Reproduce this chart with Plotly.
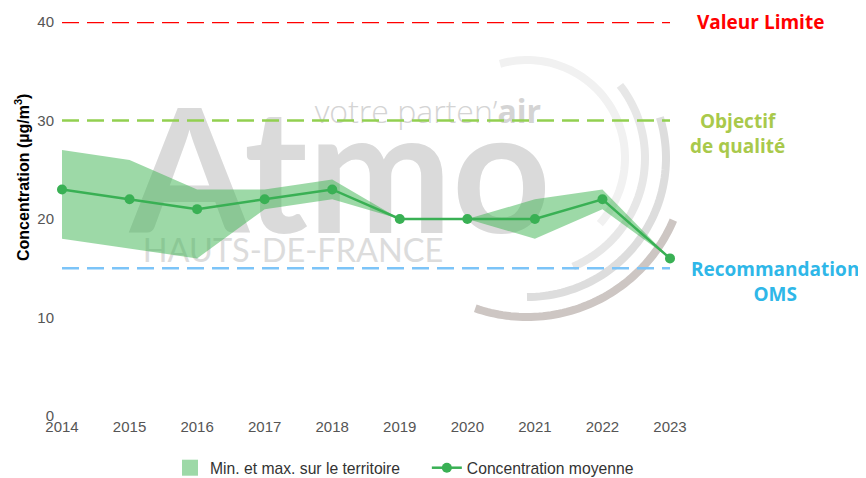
import numpy as np
import plotly.graph_objects as go

# ---- data ----
years = [2014, 2015, 2016, 2017, 2018, 2019, 2020, 2021, 2022, 2023]
mean_conc = [23, 22, 21, 22, 23, 20, 20, 20, 22, 16]
max_conc = [27, 26, 23, 23, 24, 20, 20, 22, 23, 16]
min_conc = [18, 17, 16, 21, 22, 20, 20, 18, 21, 16]

thresholds = [40, 30, 15]
threshold_names = ["Valeur Limite", "Objectif<br>de qualité", "Recommandation<br>OMS"]
threshold_colors = ["#ff0000", "#92d050", "#7cc4f8"]
label_colors = ["#ff0000", "#a9c94b", "#2fb7e8"]

y_ticks = [0, 10, 20, 30, 40]

# page is offset by the 8px body margin
OFF = 8
W, H = 866 - OFF, 478 - OFF
L, T = 62 - OFF, 22 - OFF
PW, PH = 608, 394
R = W - L - PW
B = H - T - PH


def page_to_paper(px, py):
    return (px - OFF - L) / PW, (H - B - (py - OFF)) / PH


fig = go.Figure()

# ---- watermark logo (background) ----
fig.add_trace(go.Scatter(
    x=[2018.12], y=[22.9], mode="text", text=["Atmo"],
    textfont=dict(family="Lato", size=172, color="#dadada", weight="bold"),
    showlegend=False, hoverinfo="skip", cliponaxis=False))
fig.add_trace(go.Scatter(
    x=[2017.74], y=[30.6], mode="text", text=["votre parten’<b>air</b>"],
    textposition="middle right",
    textfont=dict(family="Open Sans", size=32, color="#d4d4d4", weight=300),
    showlegend=False, hoverinfo="skip", cliponaxis=False))
fig.add_trace(go.Scatter(
    x=[2017.42], y=[16.45], mode="text", text=["HAUTS-DE-FRANCE"],
    textfont=dict(family="Lato", size=32.5, color="#dcdcdc"),
    showlegend=False, hoverinfo="skip", cliponaxis=False))

# arcs of the logo (page pixel geometry)
cx, cy = 527, 158
arcs = [
    (98, -106, 42, "#f1f1f1"),
    (118, -38, 67, "#e7e7e7"),
    (139, -17, 90, "#dddddd"),
    (159, 23, 109, "#cdc6c3"),
]
for r, a0, a1, col in arcs:
    ang = np.radians(np.linspace(a0, a1, 60))
    pts = [page_to_paper(cx + r * np.cos(a), cy + r * np.sin(a)) for a in ang]
    path = "M " + " L ".join(f"{p[0]:.4f},{p[1]:.4f}" for p in pts)
    fig.add_shape(type="path", path=path, xref="paper", yref="paper",
                  line=dict(color=col, width=8), layer="below")

# ---- band ----
fig.add_trace(go.Scatter(
    x=years, y=min_conc, mode="lines", line=dict(width=0, color="rgba(0,0,0,0)"),
    showlegend=False, hoverinfo="skip"))
fig.add_trace(go.Scatter(
    x=years, y=max_conc, mode="lines", line=dict(width=0, color="rgba(0,0,0,0)"),
    fill="tonexty", fillcolor="rgba(60,180,80,0.5)",
    name="Min. et max. sur le territoire", showlegend=False))
# legend swatch for the band
fig.add_trace(go.Scatter(
    x=[None], y=[None], mode="markers",
    marker=dict(symbol="square", size=20, color="#9dd9a7"),
    name="Min. et max. sur le territoire" + "\u00a0" * 5))

# ---- mean ----
fig.add_trace(go.Scatter(
    x=years, y=mean_conc, mode="lines+markers",
    line=dict(color="#39b054", width=2.5),
    marker=dict(color="#39b054", size=10),
    name="Concentration moyenne", cliponaxis=False))

# ---- threshold lines & labels ----
label_pos = [(760, 40), (737, 28.65), (775, 13.7)]
for val, name, lc, tc, (lx, ly) in zip(thresholds, threshold_names, threshold_colors,
                                       label_colors, label_pos):
    fig.add_shape(type="line", xref="x", yref="y", x0=years[0], x1=years[-1],
                  y0=val, y1=val, line=dict(color=lc, width=2.5, dash="17px,8px"))
    fig.add_annotation(x=(lx - OFF - L) / PW, xref="paper", y=ly, yref="y",
                       text=f"<b>{name}</b>",
                       showarrow=False, xanchor="center", yanchor="middle",
                       font=dict(family="Open Sans", size=19, color=tc))

# y-axis title (placed like the reference, above the axis centre)
tx, ty = page_to_paper(22, 178)
fig.add_annotation(x=tx, y=ty, xref="paper", yref="paper", textangle=-90,
                   text="<b>Concentration (µg/m<sup>3</sup>)</b>", showarrow=False,
                   xanchor="center", yanchor="middle",
                   font=dict(family="Liberation Sans, Arial", size=16, color="#000000"))

lx0, _ = page_to_paper(170, 0)
fig.update_layout(
    width=W, height=H, autosize=False,
    margin=dict(l=L, r=R, t=T, b=B),
    plot_bgcolor="white", paper_bgcolor="white",
    font=dict(family="Liberation Sans, Arial", color="#555555"),
    showlegend=True,
    legend=dict(orientation="h", x=lx0, xanchor="left",
                yref="container", y=(H - (468 - OFF)) / H, yanchor="middle",
                font=dict(size=15.7, color="#333333"), itemwidth=30, traceorder="normal"),
)
fig.update_xaxes(range=[years[0], years[-1]], tickvals=years, ticktext=[str(y) for y in years],
                 showgrid=False, zeroline=False, showline=False, ticks="",
                 tickfont=dict(size=15, color="#555555"), automargin=False)
fig.update_yaxes(range=[0, 40], tickvals=y_ticks, showgrid=False, zeroline=False, showline=False,
                 ticks="", ticklabelstandoff=7, tickfont=dict(size=15, color="#555555"),
                 automargin=False)

fig.write_html("out.html")
